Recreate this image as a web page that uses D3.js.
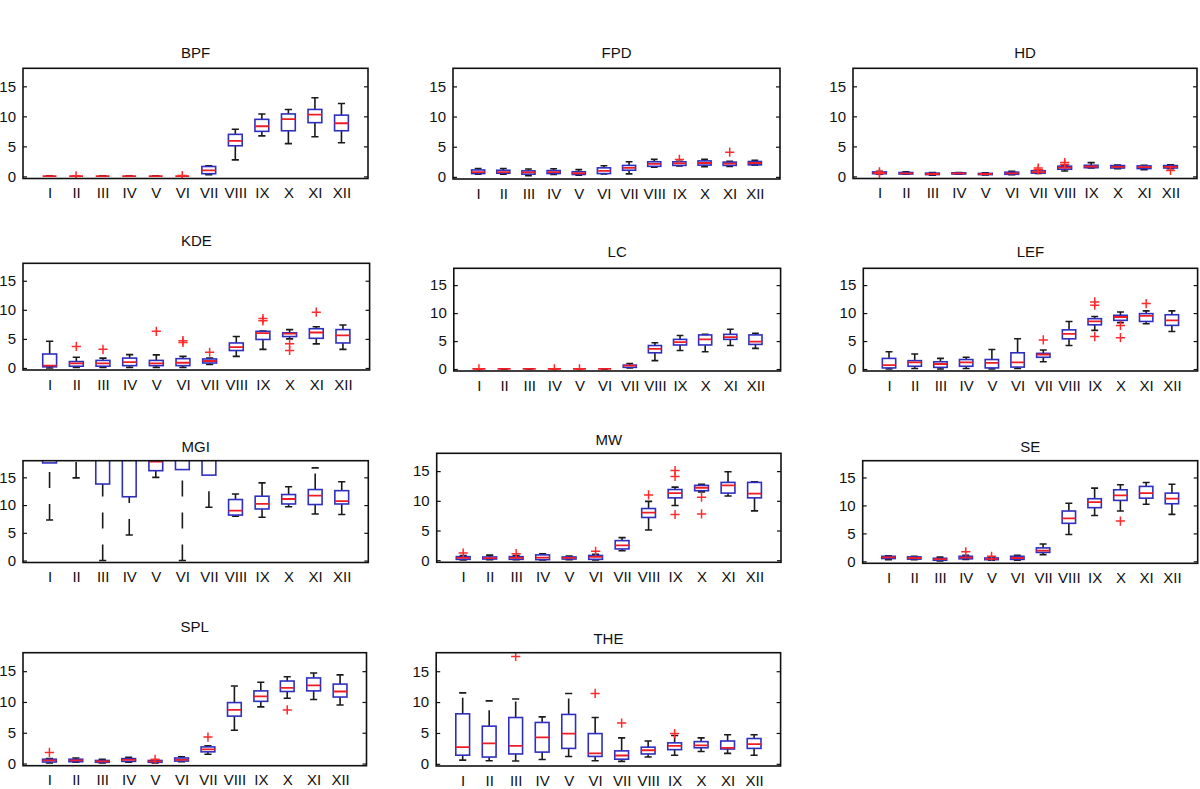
<!DOCTYPE html>
<html>
<head>
<meta charset="utf-8">
<script src="https://cdn.jsdelivr.net/npm/d3@7"></script>
<style>
  html, body { margin: 0; padding: 0; background: #fff; }
  svg { display: block; }
  text { font-family: "Liberation Sans", Arial, Helvetica, sans-serif; fill: #111; }
</style>
</head>
<body>
<svg id="chart" width="1200" height="789"></svg>
<script>
// ---------- categories & ticks ----------
const months = ["I","II","III","IV","V","VI","VII","VIII","IX","X","XI","XII"];
const yTicks = [0, 5, 10, 15];
const panelNames = ["BPF","FPD","HD","KDE","LC","LEF","MGI","MW","SE","SPL","THE"];

// ---------- box statistics per panel: [lowerWhisker, q1, median, q3, upperWhisker] ----------
const bpfStats = [[0.05,0.05,0.05,0.05,0.05],[0.05,0.05,0.05,0.05,0.05],[0.05,0.05,0.05,0.05,0.05],[0.05,0.05,0.05,0.05,0.05],[0.05,0.05,0.05,0.05,0.05],[0.05,0.05,0.05,0.05,0.05],[0.3,0.45,1.0,1.65,1.75],[2.75,5.1,5.9,7.0,7.85],[6.75,7.5,8.35,9.5,10.4],[5.45,7.6,9.55,10.4,11.15],[6.6,8.95,10.3,11.15,13.1],[5.6,7.6,8.85,10.2,12.15]];
const bpfOut = [[],[0.1],[],[],[],[0.15],[],[],[],[],[],[]];

const fpdStats = [[0.45,0.55,0.8,1.15,1.4],[0.45,0.6,0.8,1.1,1.4],[0.2,0.45,0.75,1.0,1.3],[0.4,0.55,0.8,1.05,1.35],[0.3,0.4,0.6,0.85,1.2],[0.5,0.55,1.0,1.5,1.85],[0.5,1.1,1.5,1.9,2.5],[1.6,1.75,2.15,2.5,2.9],[1.8,1.9,2.25,2.5,2.6],[1.7,1.95,2.3,2.65,2.9],[1.75,1.9,2.2,2.45,2.6],[1.95,2.0,2.3,2.55,2.75]];
const fpdOut = [[],[],[],[],[],[],[],[],[2.9],[],[4.1],[]];

const hdStats = [[0.35,0.45,0.6,0.75,0.85],[0.35,0.4,0.5,0.65,0.75],[0.2,0.3,0.4,0.55,0.65],[0.35,0.4,0.5,0.6,0.65],[0.25,0.3,0.4,0.5,0.6],[0.3,0.35,0.5,0.7,0.85],[0.5,0.55,0.7,0.95,1.0],[0.9,1.2,1.45,1.7,1.8],[1.4,1.45,1.65,1.85,2.3],[1.3,1.4,1.6,1.8,1.9],[1.1,1.3,1.55,1.75,1.85],[1.3,1.4,1.6,1.8,1.95]];
const hdOut = [[0.75,0.5],[],[],[],[],[],[1.1,1.4],[2.0,2.3],[],[],[],[1.0]];

const kdeStats = [[0,0.2,0.4,2.4,4.6],[0.1,0.3,0.8,1.1,1.85],[0.1,0.3,0.8,1.3,1.7],[0.1,0.4,1.0,1.7,2.3],[0.1,0.4,0.8,1.3,2.25],[0.1,0.4,0.9,1.6,2.0],[0.6,0.85,1.2,1.55,1.7],[2.0,3.0,3.6,4.3,5.4],[3.2,4.9,6.0,6.3,6.35],[5.0,5.4,5.9,6.05,6.6],[4.15,5.1,6.1,6.75,7.1],[3.2,4.3,5.6,6.6,7.4]];
const kdeOut = [[],[3.7],[3.2],[],[6.3],[4.7,4.4],[2.7],[],[8.5,8.1],[4.15,3.0],[9.6],[]];

const lcStats = [[0.02,0.02,0.02,0.02,0.02],[0.02,0.02,0.02,0.02,0.02],[0.02,0.02,0.02,0.02,0.02],[0.02,0.02,0.02,0.02,0.02],[0.02,0.02,0.02,0.02,0.02],[0.02,0.02,0.02,0.02,0.02],[0.2,0.3,0.6,0.7,1.0],[1.5,2.9,3.6,4.2,4.7],[3.3,4.3,4.8,5.3,6.0],[3.1,4.3,5.3,6.1,6.2],[4.2,5.3,5.7,6.2,7.1],[3.7,4.4,4.9,6.1,6.4]];
const lcOut = [[0.02],[],[],[0.02],[0.02],[],[],[],[],[],[],[]];

const lefStats = [[0,0.2,0.7,1.9,3.1],[0.1,0.5,1.2,1.5,2.7],[0,0.3,0.9,1.3,1.9],[0.1,0.5,1.2,1.7,2.1],[0,0.2,1.1,1.7,3.5],[0.1,0.35,1.2,2.9,5.4],[1.3,2.1,2.6,2.8,3.4],[4.2,5.4,6.3,7.0,8.5],[6.9,7.9,8.5,9.0,9.4],[8.3,8.7,9.3,9.6,10.2],[8.1,8.5,9.5,9.9,10.4],[6.7,7.8,8.7,9.7,10.4]];
const lefOut = [[],[],[],[],[],[],[5.2],[],[12.0,11.4,5.8],[7.8,5.6],[11.7],[]];

const mgiStats = [[7.3,17.6,18.5,19.5,20],[14.9,18.8,19.2,20,20],[0,13.8,18.5,19.5,20],[4.6,11.5,18.5,19.5,20],[15.0,16.2,17.85,18.6,19],[0,16.4,18.5,19.5,20],[9.6,15.4,18.5,19.5,20],[8.0,8.2,9.0,11.0,12.0],[7.8,9.3,10.2,11.6,14.0],[9.7,10.2,11.1,11.9,13.3],[8.4,10.1,11.7,12.8,16.7],[8.3,10.2,10.7,12.6,14.2]];
const mgiOut = [[],[],[],[],[],[],[],[],[],[],[],[]];

const mwStats = [[0.05,0.15,0.4,0.6,0.8],[0.1,0.2,0.35,0.55,0.85],[0.1,0.15,0.4,0.6,0.8],[0.05,0.1,0.45,0.9,1.1],[0.1,0.2,0.4,0.55,0.7],[0.05,0.15,0.55,0.8,1.0],[1.6,1.9,2.5,3.3,3.8],[5.1,7.2,8.0,8.7,9.9],[9.2,10.5,11.3,11.9,12.3],[11.5,11.7,12.2,12.6,12.8],[10.8,11.3,12.6,13.1,14.9],[8.3,10.5,11.2,13.1,13.2]];
const mwOut = [[1.2],[],[1.1],[],[],[1.5],[],[11.0],[15.1,14.1,7.7],[10.6,7.8],[],[]];

const seStats = [[0.3,0.5,0.7,0.9,1.0],[0.3,0.4,0.6,0.8,0.9],[0.05,0.2,0.4,0.55,0.75],[0.35,0.45,0.65,0.9,1.1],[0.2,0.3,0.45,0.6,0.7],[0.2,0.35,0.6,0.9,1.1],[1.2,1.6,1.9,2.4,3.1],[4.8,6.8,7.7,9.0,10.4],[8.2,9.6,10.6,11.2,13.1],[9.0,10.9,11.8,12.8,13.7],[10.2,11.3,12.2,13.4,14.1],[8.4,10.3,11.2,12.2,13.8]];
const seOut = [[],[],[],[1.7],[0.9],[],[],[],[],[7.2],[],[]];

const splStats = [[0.1,0.25,0.5,0.7,0.8],[0.2,0.3,0.5,0.7,0.9],[0.1,0.2,0.35,0.5,0.7],[0.2,0.35,0.6,0.8,1.0],[0.1,0.2,0.35,0.5,0.6],[0.3,0.4,0.6,0.9,1.1],[1.5,1.9,2.3,2.7,2.9],[5.4,7.7,8.7,9.9,12.6],[9.2,10.1,10.9,11.8,13.2],[10.6,11.7,12.3,13.4,14.1],[10.4,11.8,12.7,13.9,14.7],[9.5,10.8,11.7,12.9,14.4]];
const splOut = [[1.8],[],[],[],[0.7],[],[4.3],[],[],[8.7],[],[]];

const theStats = [[0.6,1.4,2.7,8.1,11.5],[0.5,1.1,3.3,6.1,10.2],[0.45,1.6,2.9,7.5,10.5],[0.7,1.9,4.3,6.7,7.6],[1.2,2.5,4.9,8.0,11.4],[0.5,1.2,1.7,4.9,7.5],[0.4,0.75,1.35,2.1,4.2],[1.1,1.6,2.2,2.7,3.7],[1.4,2.3,2.9,3.4,4.6],[2.0,2.6,3.0,3.6,4.2],[1.7,2.4,2.6,3.7,4.7],[1.4,2.5,3.2,4.1,4.7]];
const theOut = [[],[],[17.4],[],[],[11.4],[6.6],[],[4.9],[],[],[]];

const allStats = [bpfStats, fpdStats, hdStats, kdeStats, lcStats, lefStats, mgiStats, mwStats, seStats, splStats, theStats];
const allOut = [bpfOut, fpdOut, hdOut, kdeOut, lcOut, lefOut, mgiOut, mwOut, seOut, splOut, theOut];

// ---------- panel placement (pixels): left, top, right, bottom, title centre y ----------
const panelBoxes = [
  [23, 68.3, 368, 178.5, 53],
  [453, 68.3, 780, 179, 53],
  [853, 68.3, 1197, 178.5, 53],
  [23, 263.3, 369.6, 370, 241],
  [453.8, 268.3, 780.6, 371, 252],
  [863.3, 268.3, 1197.6, 371, 252],
  [23, 460.7, 368.3, 562.5, 446.7],
  [436.7, 453.3, 781, 562.3, 439.3],
  [862.7, 460.7, 1197.7, 563.3, 446.7],
  [23, 652.7, 366.5, 765.7, 627],
  [436.2, 652.7, 780.6, 766, 638.3]
];
const yDomain = [-0.35, 18];

// ---------- styles ----------
const BOX_COLOR = "#2f2fbf";
const MED_COLOR = "#ee1c24";
const OUT_COLOR = "#ff2a2a";
const WHISK_COLOR = "#1a1a1a";
const FONT_SIZE = 15;

const svg = d3.select("#chart");

panelNames.forEach((name, p) => {
  const [L, T, R, B, titleY] = panelBoxes[p];
  const stats = allStats[p];
  const outs = allOut[p];

  const x = d3.scalePoint().domain(months).range([L, R]).padding(1);
  const y = d3.scaleLinear().domain(yDomain).range([B, T]);
  const step = x.step();
  const bw = step * 0.52;
  const cw = step * 0.27;

  const g = svg.append("g").attr("class", "panel");
  const clipId = "clip" + p;
  g.append("clipPath").attr("id", clipId)
    .append("rect").attr("x", L).attr("y", T).attr("width", R - L).attr("height", B - T);

  const marks = g.append("g").attr("clip-path", `url(#${clipId})`);

  const rows = months.map((m, i) => ({ m, s: stats[i], o: outs[i] }));

  // whiskers (dashed, as in the original boxplot style)
  marks.selectAll("line.wlow").data(rows).join("line").attr("class", "wlow")
    .attr("x1", d => x(d.m)).attr("x2", d => x(d.m))
    .attr("y1", d => y(d.s[0])).attr("y2", d => y(d.s[1]))
    .attr("stroke", WHISK_COLOR).attr("stroke-width", 1.6)
    .attr("stroke-dasharray", "16,16");
  marks.selectAll("line.whigh").data(rows).join("line").attr("class", "whigh")
    .attr("x1", d => x(d.m)).attr("x2", d => x(d.m))
    .attr("y1", d => y(d.s[3])).attr("y2", d => y(d.s[4]))
    .attr("stroke", WHISK_COLOR).attr("stroke-width", 1.6)
    .attr("stroke-dasharray", "16,16");
  // caps
  marks.selectAll("line.clow").data(rows).join("line").attr("class", "clow")
    .attr("x1", d => x(d.m) - cw / 2).attr("x2", d => x(d.m) + cw / 2)
    .attr("y1", d => y(d.s[0])).attr("y2", d => y(d.s[0]))
    .attr("stroke", WHISK_COLOR).attr("stroke-width", 1.6);
  marks.selectAll("line.chigh").data(rows).join("line").attr("class", "chigh")
    .attr("x1", d => x(d.m) - cw / 2).attr("x2", d => x(d.m) + cw / 2)
    .attr("y1", d => y(d.s[4])).attr("y2", d => y(d.s[4]))
    .attr("stroke", WHISK_COLOR).attr("stroke-width", 1.6);
  // boxes
  marks.selectAll("rect.box").data(rows).join("rect").attr("class", "box")
    .attr("x", d => x(d.m) - bw / 2).attr("width", bw)
    .attr("y", d => y(d.s[3])).attr("height", d => Math.max(0, y(d.s[1]) - y(d.s[3])))
    .attr("fill", "none").attr("stroke", BOX_COLOR).attr("stroke-width", 1.6);
  // medians
  marks.selectAll("line.med").data(rows).join("line").attr("class", "med")
    .attr("x1", d => x(d.m) - bw / 2).attr("x2", d => x(d.m) + bw / 2)
    .attr("y1", d => y(d.s[2])).attr("y2", d => y(d.s[2]))
    .attr("stroke", MED_COLOR).attr("stroke-width", 1.8);
  // outliers
  const outPts = rows.flatMap(d => d.o.map(v => ({ m: d.m, v })));
  marks.selectAll("path.out").data(outPts).join("path").attr("class", "out")
    .attr("d", d => {
      const cx = x(d.m), cy = y(d.v), r = 4.6;
      return `M${cx - r},${cy}H${cx + r}M${cx},${cy - r}V${cy + r}`;
    })
    .attr("stroke", OUT_COLOR).attr("stroke-width", 1.5).attr("fill", "none");

  // axes
  const yl = g.append("g").attr("transform", `translate(${L},0)`)
    .call(d3.axisLeft(y).tickValues(yTicks).tickSize(-4).tickPadding(7).tickFormat(d3.format("d")));
  const yr = g.append("g").attr("transform", `translate(${R},0)`)
    .call(d3.axisRight(y).tickValues(yTicks).tickSize(-4).tickFormat(""));
  const xb = g.append("g").attr("transform", `translate(0,${B})`)
    .call(d3.axisBottom(x).tickSize(0).tickPadding(9));
  [yl, yr, xb].forEach(a => {
    a.select(".domain").remove();
    a.selectAll("line").attr("stroke", "#111").attr("stroke-width", 1.2);
    a.selectAll("text").attr("font-size", FONT_SIZE)
      .attr("font-family", '"Liberation Sans", Arial, Helvetica, sans-serif').attr("fill", "#111");
  });

  // frame
  g.append("rect").attr("x", L).attr("y", T).attr("width", R - L).attr("height", B - T)
    .attr("fill", "none").attr("stroke", "#111").attr("stroke-width", 1.6);

  // title
  g.append("text").attr("x", (L + R) / 2).attr("y", titleY + 5.4)
    .attr("text-anchor", "middle").attr("font-size", FONT_SIZE).text(name);
});
</script>
</body>
</html>
